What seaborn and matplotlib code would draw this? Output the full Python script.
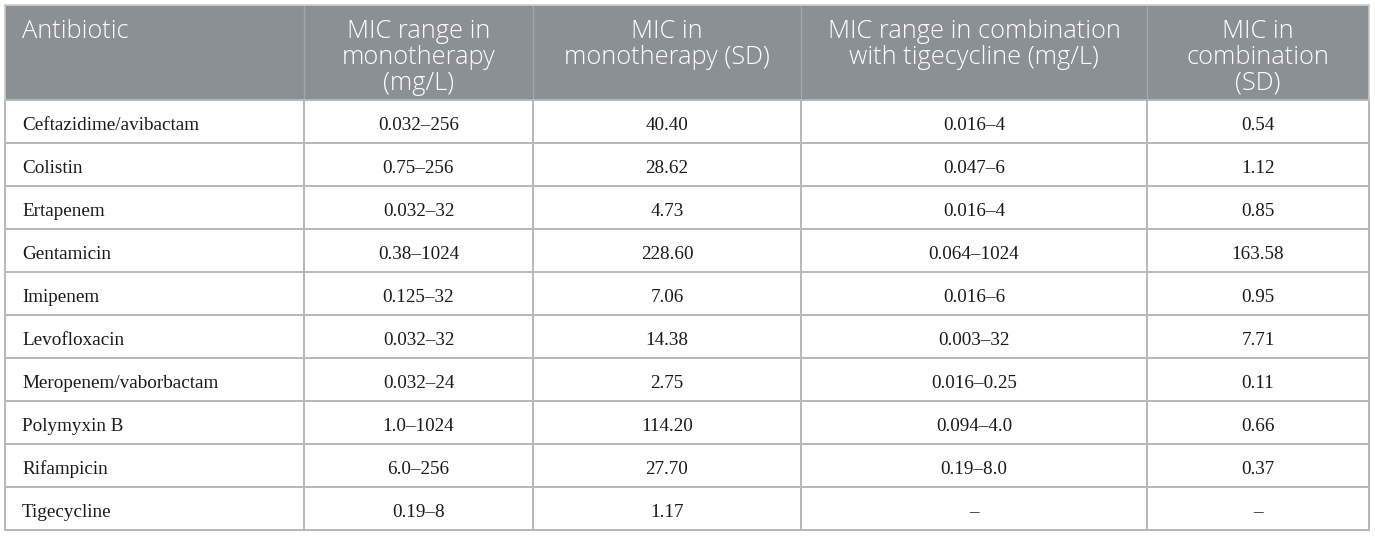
import matplotlib
matplotlib.use("Agg")
import matplotlib.pyplot as plt
import seaborn as sns
from matplotlib.patches import Rectangle

headers = ["Antibiotic",
           "MIC range in\nmonotherapy\n(mg/L)",
           "MIC in\nmonotherapy (SD)",
           "MIC range in combination\nwith tigecycline (mg/L)",
           "MIC in\ncombination\n(SD)"]
antibiotics = ["Ceftazidime/avibactam", "Colistin", "Ertapenem", "Gentamicin",
               "Imipenem", "Levofloxacin", "Meropenem/vaborbactam", "Polymyxin B",
               "Rifampicin", "Tigecycline"]
mono_range = ["0.032\u2013256", "0.75\u2013256", "0.032\u201332", "0.38\u20131024",
              "0.125\u201332", "0.032\u201332", "0.032\u201324", "1.0\u20131024",
              "6.0\u2013256", "0.19\u20138"]
mono_sd = ["40.40", "28.62", "4.73", "228.60", "7.06", "14.38", "2.75", "114.20",
           "27.70", "1.17"]
comb_range = ["0.016\u20134", "0.047\u20136", "0.016\u20134", "0.064\u20131024",
              "0.016\u20136", "0.003\u201332", "0.016\u20130.25", "0.094\u20134.0",
              "0.19\u20138.0", "\u2013"]
comb_sd = ["0.54", "1.12", "0.85", "163.58", "0.95", "7.71", "0.11", "0.66",
           "0.37", "\u2013"]

sns.set_theme(style="white")
plt.rcParams['font.family'] = ['Open Sans', 'DejaVu Sans']

W, H = 1375, 536
fig = plt.figure(figsize=(W / 100, H / 100), dpi=100)
ax = fig.add_axes([0, 0, 1, 1])
ax.set_xlim(0, W)
ax.set_ylim(H, 0)
ax.axis("off")

# layout (pixels)
col_edges = [5, 304, 533, 801, 1147, 1369]
top, head_bot, bottom = 5, 100, 530
nrows = len(antibiotics)
row_h = (bottom - head_bot) / nrows
grid_c = "#b7b7b7"
head_c = "#8b9094"

ax.add_patch(Rectangle((col_edges[0], top), col_edges[-1] - col_edges[0],
                       head_bot - top, facecolor=head_c, edgecolor="none"))
for x in col_edges[1:-1]:
    ax.plot([x, x], [top, head_bot], color="#a2a7aa", lw=1.0)
for i in range(nrows + 1):
    y = head_bot + i * row_h
    ax.plot([col_edges[0], col_edges[-1]], [y, y], color=grid_c, lw=1.4)
for x in col_edges:
    ax.plot([x, x], [head_bot, bottom], color=grid_c, lw=1.4)
ax.plot([col_edges[0], col_edges[-1]], [top, top], color="#cfcfcf", lw=1.2)
ax.plot([col_edges[0], col_edges[0]], [top, head_bot], color="#c8c8c8", lw=1.2)
ax.plot([col_edges[-1], col_edges[-1]], [top, head_bot], color="#c8c8c8", lw=1.2)

hfs = 18.3
base0, lstep = 37.5, 26
for j, h in enumerate(headers):
    for k, line in enumerate(h.split("\n")):
        y = base0 + k * lstep
        if j == 0:
            ax.text(col_edges[0] + 17, y, line, ha="left", va="baseline",
                    color="white", fontsize=hfs, fontweight="light")
        else:
            xc = (col_edges[j] + col_edges[j + 1]) / 2
            ax.text(xc, y, line, ha="center", va="baseline",
                    color="white", fontsize=hfs, fontweight="light")

cols = [antibiotics, mono_range, mono_sd, comb_range, comb_sd]
serif = ['Liberation Serif', 'DejaVu Serif']
for j, col in enumerate(cols):
    for i, val in enumerate(col):
        yb = head_bot + i * row_h + 30
        if j == 0:
            ax.text(col_edges[0] + 17, yb, val, ha="left", va="baseline",
                    color="#1a1a1a", fontsize=13.8, family=serif)
        else:
            xc = (col_edges[j] + col_edges[j + 1]) / 2
            ax.text(xc, yb, val, ha="center", va="baseline",
                    color="#1a1a1a", fontsize=13.8, family=serif)

fig.savefig("out.png", dpi=100)
